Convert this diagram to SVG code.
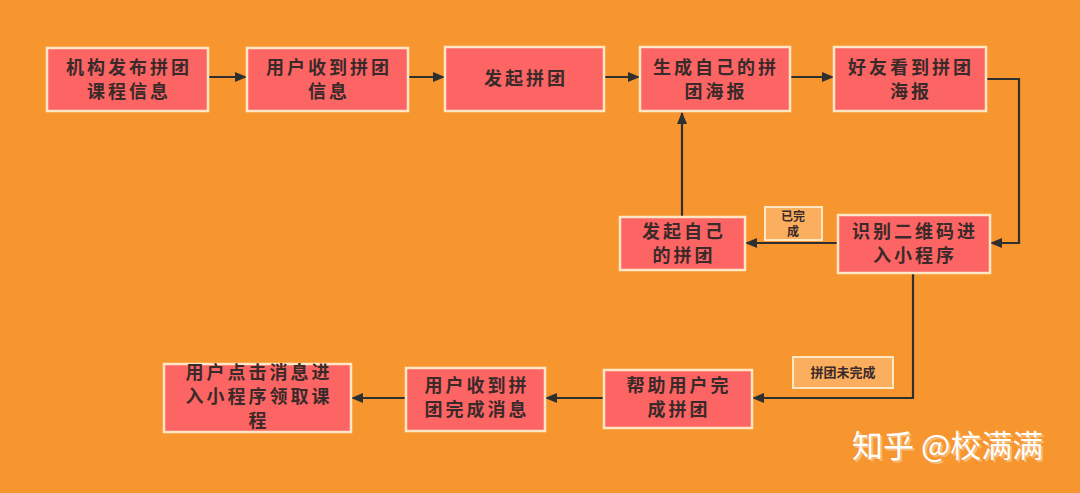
<svg xmlns="http://www.w3.org/2000/svg" width="1080" height="493" viewBox="0 0 1080 493">
<defs>
<style>
.node rect{fill:#FD6464;stroke:#FFE6C4;stroke-width:2.5}
.node text{font-family:"Noto Sans CJK SC","Noto Sans",sans-serif;font-weight:bold;font-size:18px;fill:#3a2a2a;text-anchor:middle;letter-spacing:3px}
.lbl rect{fill:#FBAE5E;stroke:#FFE6C4;stroke-width:2}
.lbl text{font-family:"Noto Sans CJK SC","Noto Sans",sans-serif;font-weight:bold;fill:#3a2a2a;text-anchor:middle}
.edge{fill:none;stroke:#2f2f2f;stroke-width:2.2}
.wm{font-family:"Noto Sans CJK SC","Noto Sans",sans-serif;font-size:31px;fill:#ffffff}
</style>
<marker id="ah" markerWidth="12" markerHeight="10" refX="11" refY="5" orient="auto" markerUnits="userSpaceOnUse">
<path d="M0,0 L12,5 L0,10 Z" fill="#2f2f2f"/>
</marker>
</defs>
<rect width="1080" height="493" fill="#F7962F"/>
<g id="connectors">
<path class="edge" d="M208,77 L246,77" marker-end="url(#ah)"/>
<path class="edge" d="M408,77 L444,77" marker-end="url(#ah)"/>
<path class="edge" d="M604,77 L639,77" marker-end="url(#ah)"/>
<path class="edge" d="M790,77 L833,77" marker-end="url(#ah)"/>
<path class="edge" d="M986,79 L1019,79 L1019,243 L991,243" marker-end="url(#ah)"/>
<path class="edge" d="M838,243 L746,243" marker-end="url(#ah)"/>
<path class="edge" d="M682,217 L682,113" marker-end="url(#ah)"/>
<path class="edge" d="M913,273 L913,398 L753,398" marker-end="url(#ah)"/>
<path class="edge" d="M604,398 L546,398" marker-end="url(#ah)"/>
<path class="edge" d="M406,398 L352,398" marker-end="url(#ah)"/>
</g>
<g id="n1" class="node"><rect x="47" y="48" width="161" height="63"/><text x="129" y="74">机构发布拼团</text><text x="129" y="98">课程信息</text></g>
<g id="n2" class="node"><rect x="247" y="48" width="161" height="63"/><text x="329" y="74">用户收到拼团</text><text x="329" y="98">信息</text></g>
<g id="n3" class="node"><rect x="445" y="47" width="159" height="64"/><text x="526" y="85">发起拼团</text></g>
<g id="n4" class="node"><rect x="640" y="47" width="150" height="64"/><text x="716" y="74">生成自己的拼</text><text x="716" y="98">团海报</text></g>
<g id="n5" class="node"><rect x="834" y="47" width="152" height="64"/><text x="911" y="74">好友看到拼团</text><text x="911" y="98">海报</text></g>
<g id="n6" class="node"><rect x="838" y="215" width="152" height="58"/><text x="915" y="238">识别二维码进</text><text x="915" y="262">入小程序</text></g>
<g id="n7" class="node"><rect x="620" y="217" width="125" height="53"/><text x="684" y="238">发起自己</text><text x="684" y="262">的拼团</text></g>
<g id="n8" class="node"><rect x="604" y="370" width="148" height="58"/><text x="679" y="392">帮助用户完</text><text x="679" y="416">成拼团</text></g>
<g id="n9" class="node"><rect x="406" y="368" width="139" height="63"/><text x="477" y="392">用户收到拼</text><text x="477" y="416">团完成消息</text></g>
<g id="n10" class="node"><rect x="164" y="364" width="187" height="68"/><text x="259" y="379">用户点击消息进</text><text x="259" y="403">入小程序领取课</text><text x="259" y="427">程</text></g>
<g id="l1" class="lbl"><rect x="765" y="207" width="57" height="33"/><text x="793" y="221" font-size="12">已完</text><text x="793" y="236" font-size="12">成</text></g>
<g id="l2" class="lbl"><rect x="793" y="357" width="100" height="31"/><text x="843" y="377" font-size="13">拼团未完成</text></g>
<text class="wm" x="852" y="457" fill="#7a4a1a" opacity="0.35" transform="translate(2,2)">知乎 @校满满</text>
<text class="wm" x="852" y="457">知乎 @校满满</text>
</svg>
